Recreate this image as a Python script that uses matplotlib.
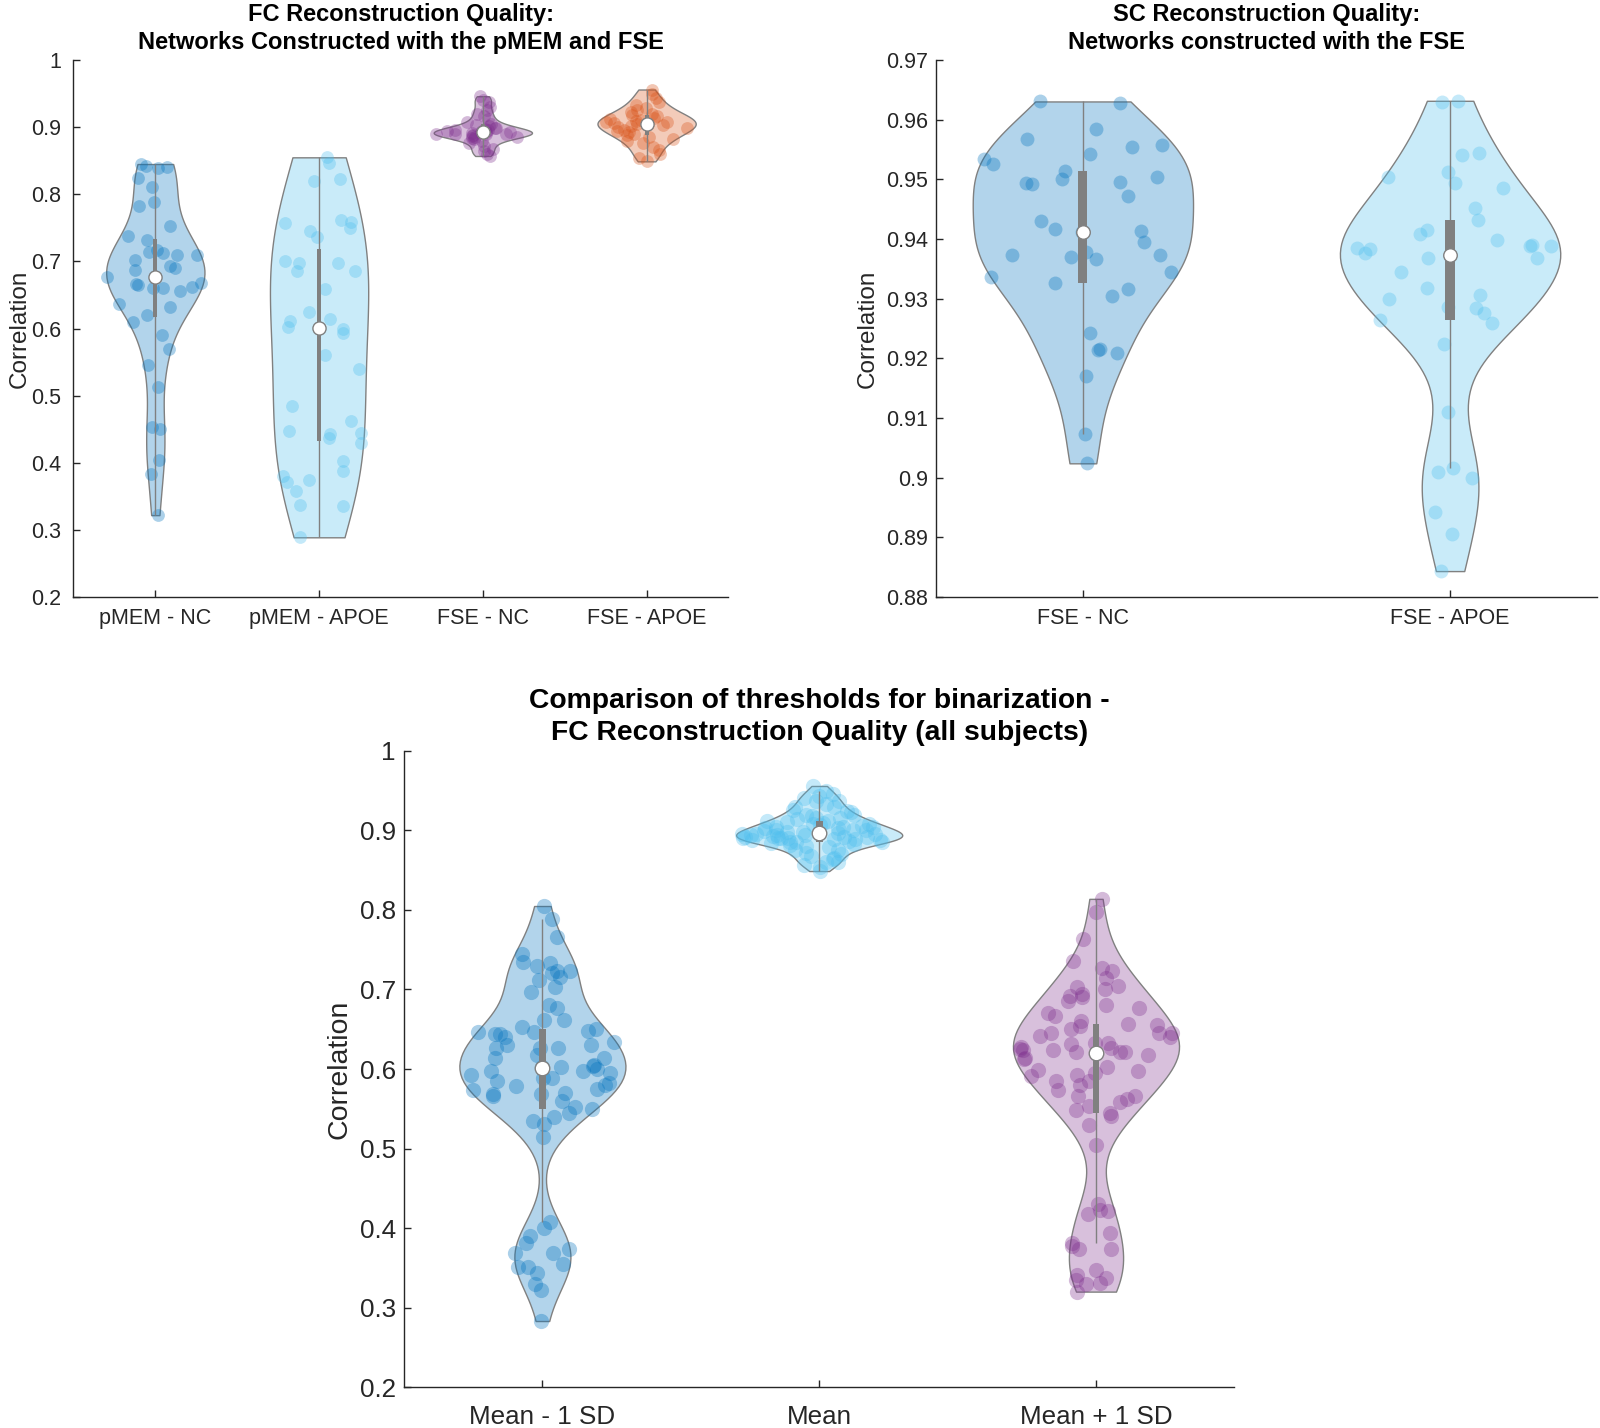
import numpy as np
import matplotlib
matplotlib.use('Agg')
import matplotlib.pyplot as plt
from matplotlib import mlab
from matplotlib.colors import to_rgba
from matplotlib.ticker import FuncFormatter

plt.rcParams['font.family'] = ['Liberation Sans', 'DejaVu Sans']

# ---- values ----
fc_labels = ['pMEM - NC', 'pMEM - APOE', 'FSE - NC', 'FSE - APOE']
pmem_nc = [0.845, 0.842, 0.840, 0.839, 0.824, 0.811, 0.788, 0.783, 0.752, 0.738,
           0.732, 0.717, 0.714, 0.712, 0.710, 0.710, 0.702, 0.693, 0.690, 0.687,
           0.677, 0.668, 0.667, 0.665, 0.662, 0.661, 0.660, 0.656, 0.637, 0.632,
           0.620, 0.609, 0.590, 0.569, 0.546, 0.513, 0.454, 0.450, 0.404, 0.384,
           0.322]
pmem_apoe = [0.855, 0.847, 0.823, 0.819, 0.762, 0.759, 0.757, 0.750, 0.745, 0.736,
             0.701, 0.698, 0.698, 0.686, 0.685, 0.659, 0.625, 0.614, 0.611, 0.602,
             0.600, 0.593, 0.561, 0.539, 0.484, 0.462, 0.448, 0.444, 0.443, 0.437,
             0.429, 0.402, 0.388, 0.381, 0.375, 0.372, 0.358, 0.337, 0.335, 0.289]
fse_nc_fc = [0.946, 0.941, 0.937, 0.930, 0.925, 0.920, 0.916, 0.912, 0.908, 0.905,
             0.903, 0.901, 0.899, 0.898, 0.897, 0.896, 0.895, 0.894, 0.894, 0.893,
             0.892, 0.892, 0.891, 0.890, 0.890, 0.889, 0.889, 0.888, 0.887, 0.886,
             0.885, 0.884, 0.882, 0.879, 0.876, 0.872, 0.868, 0.864, 0.860, 0.857]
fse_apoe_fc = [0.956, 0.950, 0.943, 0.937, 0.933, 0.929, 0.926, 0.923, 0.920, 0.918,
               0.916, 0.914, 0.912, 0.911, 0.909, 0.908, 0.907, 0.906, 0.905, 0.904,
               0.903, 0.901, 0.900, 0.898, 0.896, 0.894, 0.892, 0.890, 0.888, 0.886,
               0.883, 0.880, 0.876, 0.871, 0.866, 0.860, 0.854, 0.849]

sc_labels = ['FSE - NC', 'FSE - APOE']
fse_nc_sc = [0.96277, 0.96305, 0.95841, 0.95673, 0.95550, 0.95578, 0.95427, 0.95343,
             0.95254, 0.95142, 0.95047, 0.94946, 0.94963, 0.95002, 0.94919, 0.94723,
             0.94304, 0.94164, 0.94136, 0.94114, 0.93958, 0.93790, 0.93734, 0.93695,
             0.93734, 0.93667, 0.93443, 0.93359, 0.93259, 0.93158, 0.93046, 0.92432,
             0.92141, 0.92085, 0.92158, 0.91705, 0.90732, 0.90241]
fse_apoe_sc = [0.96294, 0.96316, 0.95411, 0.95438, 0.95131, 0.95047, 0.94935, 0.94863,
               0.94516, 0.94321, 0.94153, 0.94080, 0.93985, 0.93857, 0.93890, 0.93901,
               0.93885, 0.93834, 0.93762, 0.93678, 0.93689, 0.93443, 0.93175, 0.93063,
               0.92996, 0.92856, 0.92839, 0.92756, 0.92644, 0.92588, 0.92236, 0.91107,
               0.90168, 0.90101, 0.89989, 0.89419, 0.89050, 0.88435]

thr_labels = ['Mean - 1 SD', 'Mean', 'Mean + 1 SD']
thr_minus = [0.805, 0.789, 0.766, 0.745, 0.733, 0.723, 0.734, 0.730, 0.723, 0.716,
             0.712, 0.721, 0.703, 0.697, 0.677, 0.680, 0.662, 0.662, 0.653, 0.647,
             0.650, 0.644, 0.644, 0.646, 0.648, 0.634, 0.640, 0.630, 0.627, 0.627,
             0.627, 0.630, 0.614, 0.614, 0.618, 0.605, 0.604, 0.595, 0.602, 0.603,
             0.589, 0.598, 0.589, 0.582, 0.580, 0.573, 0.570, 0.578, 0.566, 0.568,
             0.552, 0.550, 0.531, 0.535, 0.515, 0.600, 0.597, 0.593, 0.585, 0.575,
             0.568, 0.560, 0.545, 0.540, 0.408, 0.400, 0.390, 0.381, 0.373, 0.369,
             0.369, 0.355, 0.351, 0.351, 0.343, 0.330, 0.322, 0.283]
# the "Mean" threshold is the FSE network of the first panel, all subjects
thr_mean = fse_nc_fc + fse_apoe_fc
thr_plus = [0.814, 0.797, 0.764, 0.736, 0.727, 0.723, 0.715, 0.705, 0.703, 0.694,
            0.692, 0.690, 0.685, 0.677, 0.671, 0.667, 0.657, 0.654, 0.650, 0.645,
            0.645, 0.645, 0.641, 0.633, 0.633, 0.631, 0.627, 0.622, 0.618, 0.624,
            0.622, 0.624, 0.614, 0.612, 0.599, 0.597, 0.593, 0.595, 0.585, 0.585,
            0.591, 0.573, 0.566, 0.566, 0.553, 0.549, 0.559, 0.541, 0.529, 0.504,
            0.660, 0.603, 0.700, 0.680, 0.655, 0.640, 0.628, 0.621, 0.625, 0.580,
            0.562, 0.545, 0.430, 0.335, 0.421, 0.423, 0.417, 0.394, 0.381, 0.373,
            0.373, 0.377, 0.341, 0.347, 0.337, 0.331, 0.320, 0.329]

BLUE, LIGHT, PURPLE, ORANGE = '#0072BD', '#4DBEEE', '#7E2F8E', '#D95319'
GREY = '#808080'
rng = np.random.default_rng(3)


def ksd_bw(kde):
    # bandwidth like MATLAB's ksdensity (MAD-based normal rule)
    x = np.asarray(kde.dataset).ravel()
    sig = np.median(np.abs(x - np.median(x))) / 0.6745
    return sig * (4 / (3 * x.size)) ** 0.2 / x.std(ddof=1)


def violins(ax, groups, colors, full_whisker=False, dot=60, med=90, width=0.6):
    for i, (vals, col) in enumerate(zip(groups, colors), start=1):
        v = np.asarray(vals, float)
        parts = ax.violinplot([v], positions=[i], widths=width,
                              showextrema=False, bw_method=ksd_bw)
        body = parts['bodies'][0]
        body.set_alpha(None)
        body.set_facecolor(to_rgba(col, 0.3))
        body.set_edgecolor(GREY)
        body.set_linewidth(1.0)

        kde = mlab.GaussianKDE(v, ksd_bw)
        dmax = kde.evaluate(np.linspace(v.min(), v.max(), 100)).max()
        half = kde.evaluate(v) / dmax * width / 2
        x = i + rng.uniform(-1, 1, v.size) * half
        ax.scatter(x, v, s=dot, color=col, alpha=0.33, lw=0, zorder=2)

        q1, q2, q3 = np.quantile(v, [0.25, 0.5, 0.75], method='hazen')
        if full_whisker:
            lo, hi = v.min(), v.max()
        else:
            iqr = q3 - q1
            lo = v[v >= q1 - 1.5 * iqr].min()
            hi = v[v <= q3 + 1.5 * iqr].max()
        ax.vlines(i, lo, hi, color=GREY, lw=1.0, zorder=3)
        ax.bar(i, q3 - q1, bottom=q1, width=0.025, color=GREY, zorder=4)
        ax.scatter([i], [q2], s=med, facecolor='white', edgecolor=GREY, lw=1.0, zorder=5)


def style(ax, labels, ticks, lim, xlim, fs_tick, fs_lab, title, fs_title,
          ypad=6, xpad=9, labelpad=6):
    for s in ('top', 'right'):
        ax.spines[s].set_visible(False)
    for s in ('left', 'bottom'):
        ax.spines[s].set_color('#262626')
        ax.spines[s].set_linewidth(1.0)
    ax.set_xticks(range(1, len(labels) + 1))
    ax.set_xticklabels(labels)
    ax.set_xlim(*xlim)
    ax.set_yticks(ticks)
    ax.set_ylim(*lim)
    ax.yaxis.set_major_formatter(FuncFormatter(lambda y, _: f'{y:g}'))
    ax.tick_params(direction='in', length=5, width=1, colors='#262626',
                   labelsize=fs_tick)
    ax.tick_params(axis='y', pad=ypad)
    ax.tick_params(axis='x', pad=xpad)
    ax.set_ylabel('Correlation', fontsize=fs_lab, color='#262626', labelpad=labelpad)
    ax.set_title(title, fontsize=fs_title, fontweight='bold', linespacing=1.27, pad=8)


fig = plt.figure(figsize=(16, 14.28), dpi=100)

ax1 = fig.add_axes([0.0459, 0.5819, 0.4094, 0.3761])
violins(ax1, [pmem_nc, pmem_apoe, fse_nc_fc, fse_apoe_fc], [BLUE, LIGHT, PURPLE, ORANGE],
        full_whisker=True, dot=85, med=90)
style(ax1, fc_labels, np.round(np.arange(0.2, 1.01, 0.1), 2), (0.2, 1.0), (0.5, 4.5),
      15.5, 17.5, 'FC Reconstruction Quality:\nNetworks Constructed with the pMEM and FSE', 17,
      ypad=9, xpad=8, labelpad=0)

ax2 = fig.add_axes([0.585, 0.5819, 0.4131, 0.3761])
violins(ax2, [fse_nc_sc, fse_apoe_sc], [BLUE, LIGHT], dot=100, med=95)
style(ax2, sc_labels, np.round(np.arange(0.88, 0.9701, 0.01), 2), (0.88, 0.97), (0.6, 2.4),
      15.5, 17.5, 'SC Reconstruction Quality:\nNetworks constructed with the FSE', 17,
      ypad=6, xpad=8, labelpad=5)

ax3 = fig.add_axes([0.2525, 0.0287, 0.519, 0.4454])
violins(ax3, [thr_minus, thr_mean, thr_plus], [BLUE, LIGHT, PURPLE], dot=120, med=110)
style(ax3, thr_labels, np.round(np.arange(0.2, 1.01, 0.1), 2), (0.2, 1.0), (0.5, 3.5),
      18.7, 20.5, 'Comparison of thresholds for binarization -\nFC Reconstruction Quality (all subjects)', 20.3,
      ypad=6, xpad=13, labelpad=5)

fig.savefig('out.png', dpi=100)
